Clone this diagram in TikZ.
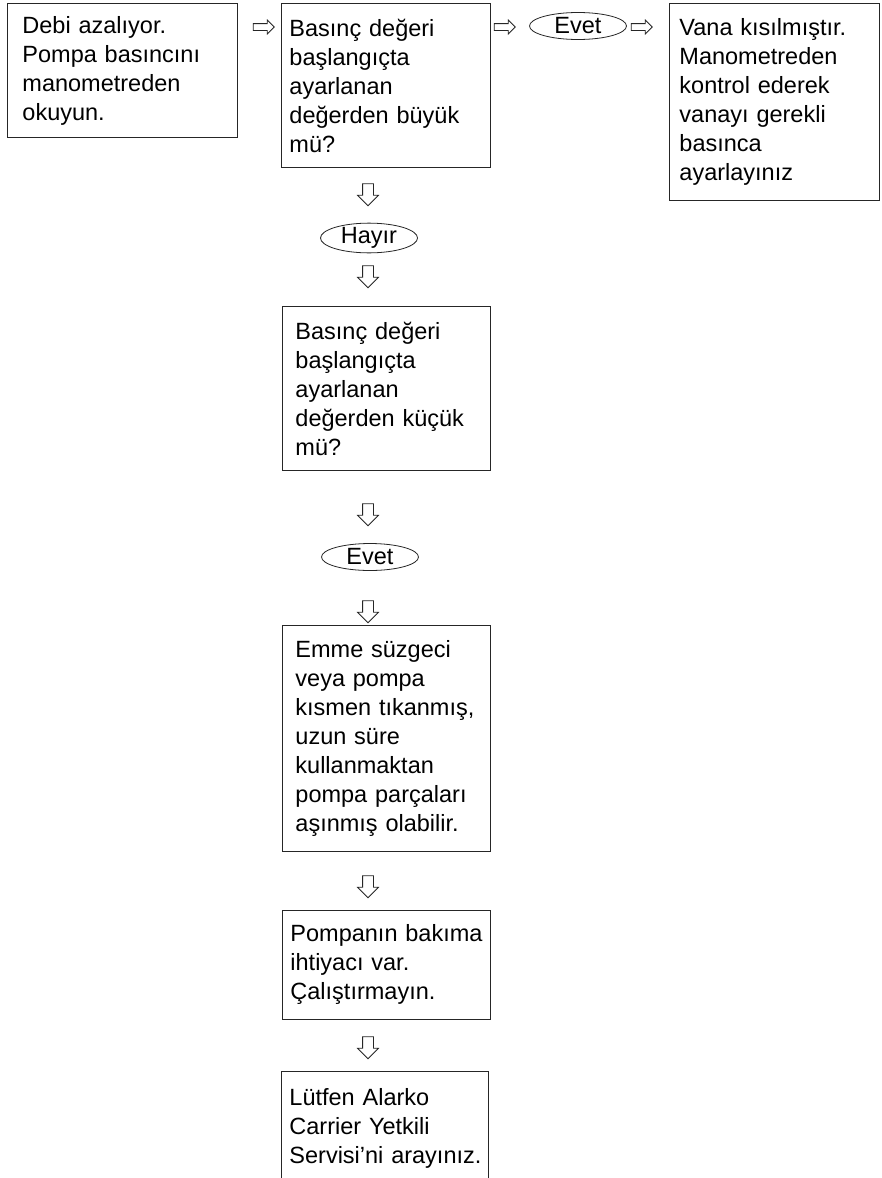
\documentclass[tikz,border=0pt]{standalone}
\usepackage{fontspec}
\setmainfont{Liberation Sans}
\usepackage{tikz}
\usetikzlibrary{shapes.geometric,shapes.arrows}

\begin{document}
\begin{tikzpicture}[
  x=1pt,y=-1pt,
  box/.style={draw=black!85,line width=0.9pt,anchor=north west,align=left,inner ysep=0pt,
    font=\fontsize{23.5}{29}\selectfont},
  oval/.style={ellipse,draw=black!85,line width=0.8pt,minimum width=97pt,minimum height=27pt,inner sep=0pt,
    font=\fontsize{23.5}{29}\selectfont},
  rarr/.style={single arrow,draw=black!85,line width=0.8pt,minimum height=21pt,minimum width=13pt,
    single arrow head extend=3.5pt,inner xsep=0pt,inner ysep=3pt},
  darr/.style={single arrow,draw=black!85,line width=0.8pt,rotate=-90,minimum height=22pt,minimum width=20pt,
    single arrow head extend=5pt,inner xsep=0pt,inner ysep=5pt}
]
\path[use as bounding box,fill=white] (0,0) rectangle (881,1178);
\coordinate (pageend) at (0,1178);

% top row
\node[box,inner xsep=15pt,text width=200pt,minimum height=134pt] (debi) at (7,3)
  {Debi azalıyor.\\Pompa basıncını\\manometreden\\okuyun.};
\node[box,inner xsep=8pt,text width=193pt,minimum height=164pt] (buyuk) at (281,3)
  {Basınç değeri\\başlangıçta\\ayarlanan\\değerden~büyük\\mü?};
\node[oval] (evet1) at (578,26) {Evet};
\node[box,inner xsep=10pt,text width=190pt,minimum height=197pt] (vana) at (669,3)
  {Vana kısılmıştır.\\Manometreden\\kontrol ederek\\vanayı gerekli\\basınca\\ayarlayınız};

\node[rarr] (r1) at (262,27) {};
\node[rarr] (r2) at (503,27) {};
\node[rarr] (r3) at (640,27) {};

% column
\node[darr] (d1) at (368,192) {};
\node[oval] (hayir) at (369,238) {Hayır};
\node[darr] (d2) at (368,274) {};
\node[box,inner xsep=13pt,text width=182pt,minimum height=164pt] (kucuk) at (282,306)
  {Basınç değeri\\başlangıçta\\ayarlanan\\değerden~küçük\\mü?};
\node[darr] (d3) at (368,512) {};
\node[oval] (evet2) at (370,557) {Evet};
\node[darr] (d4) at (368,609) {};
\node[box,inner xsep=13pt,text width=182pt,minimum height=226pt] (suzgec) at (282,625)
  {Emme süzgeci\\veya pompa\\kısmen~tıkanmış,\\uzun süre\\kullanmaktan\\pompa~parçaları\\aşınmış~olabilir.};
\node[darr] (d5) at (368,884) {};
\node[box,inner xsep=8pt,text width=192pt,minimum height=109pt] (bakim) at (282,910)
  {Pompanın~bakıma\\ihtiyacı var.\\Çalıştırmayın.};
\node[darr] (d6) at (368,1045) {};
\node[box,draw=none,inner xsep=8pt,text width=191pt,minimum height=114pt] (servis) at (281,1071)
  {Lütfen Alarko\\Carrier Yetkili\\Servisi’ni~arayınız.};
\draw[black!85,line width=0.9pt] (servis.north west |- pageend) -- (servis.north west)
  -- (servis.north east) -- (servis.north east |- pageend);
\end{tikzpicture}
\end{document}
